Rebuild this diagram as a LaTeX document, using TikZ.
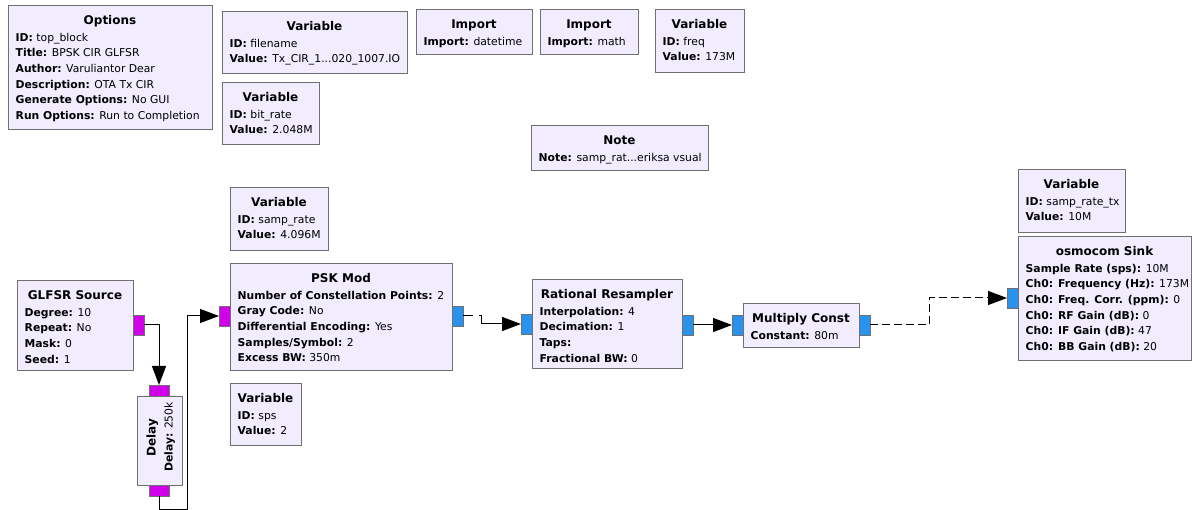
\documentclass[tikz,border=0pt]{standalone}
\usepackage{fontspec}
\setmainfont{DejaVu Sans}
\usetikzlibrary{arrows.meta,calc}
\definecolor{blkfill}{RGB}{241,237,255}
\definecolor{blkedge}{RGB}{112,112,112}
\definecolor{bytecol}{RGB}{208,0,232}
\definecolor{cpxcol}{RGB}{40,146,236}
\tikzset{
 x=1pt, y=-1pt,
 blockbox/.style={draw=blkedge, fill=blkfill, line width=0.9pt, inner sep=0pt, outer sep=0pt, anchor=north west},
 ttl/.style={font=\fontsize{12}{14}\selectfont\bfseries, inner sep=0pt, anchor=mid},
 prm/.style={font=\fontsize{10.8}{13}\selectfont, inner sep=0pt, anchor=mid west},
 portbox/.style={draw=blkedge, line width=0.9pt, inner sep=0pt, outer sep=0pt, anchor=north west},
 bport/.style={portbox, fill=bytecol},
 cport/.style={portbox, fill=cpxcol},
 conn/.style={line width=1pt, -{Triangle[length=19pt,width=14pt]}},
}
\newcommand\grdots{.{}.{}.}
\newcommand\grblk[7]{%
 \node[blockbox, minimum width={#4-#2}, minimum height={#5-#3}] (#1) at (#2,#3) {};
 \node[ttl] (#1-title) at ({(#2+#4)/2},{#3+16.5}) {#6};
 \foreach \grline [count=\i] in {#7} {\node[prm] (#1-l\i) at ({#2+7.5},{#3+33.5+(\i-1)*15.6}) {\grline};}
}
\newcommand\grport[6]{\node[#2, minimum width={#5-#3}, minimum height={#6-#4}] (#1) at (#3,#4) {};}
\begin{document}
\begin{tikzpicture}
\useasboundingbox[fill=white] (0,0) rectangle (1192,510);

\grblk{opt}{8}{5}{212}{129}{Options}{{\textbf{ID:} top\_block},{\textbf{Title:} BPSK CIR GLFSR},{\textbf{Author:} Varuliantor Dear},{\textbf{Description:} OTA Tx CIR},{\textbf{Generate Options:} No GUI},{\textbf{Run Options:} Run to Completion}}
\grblk{vfile}{222}{11}{407}{73}{Variable}{{\textbf{ID:} filename},{\textbf{Value:} Tx\_CIR\_1\grdots020\_1007.IO}}
\grblk{vbit}{222}{82}{319}{144}{Variable}{{\textbf{ID:} bit\_rate},{\textbf{Value:} 2.048M}}
\grblk{imp1}{416}{9}{532}{54}{Import}{{\textbf{Import:} datetime}}
\grblk{imp2}{540}{9}{638}{54}{Import}{{\textbf{Import:} math}}
\grblk{vfreq}{655}{9}{744}{72}{Variable}{{\textbf{ID:} freq},{\textbf{Value:} 173M}}
\grblk{note}{531}{125}{708}{170}{Note}{{\textbf{Note:} samp\_rat\grdots eriksa vsual}}
\grblk{vsr}{230}{187}{328}{250}{Variable}{{\textbf{ID:} samp\_rate},{\textbf{Value:} 4.096M}}
\grblk{psk}{230}{263}{452}{370}{PSK Mod}{{\textbf{Number of Constellation Points:} 2},{\textbf{Gray Code:} No},{\textbf{Differential Encoding:} Yes},{\textbf{Samples/Symbol:} 2},{\textbf{Excess BW:} 350m}}
\grblk{glfsr}{17}{280}{133}{370}{GLFSR Source}{{\textbf{Degree:} 10},{\textbf{Repeat:} No},{\textbf{Mask:} 0},{\textbf{Seed:} 1}}
\grblk{vsps}{230}{383}{301}{445}{Variable}{{\textbf{ID:} sps},{\textbf{Value:} 2}}
\grblk{rr}{532}{279}{682}{368}{Rational Resampler}{{\textbf{Interpolation:} 4},{\textbf{Decimation:} 1},{\textbf{Taps:}},{\textbf{Fractional BW:} 0}}
\grblk{mc}{743}{303}{859}{347}{Multiply Const}{{\textbf{Constant:} 80m}}
\grblk{vsrtx}{1018}{169}{1125}{232}{Variable}{{\textbf{ID:} samp\_rate\_tx},{\textbf{Value:} 10M}}
\grblk{osmo}{1018}{236}{1191}{360}{osmocom Sink}{{\textbf{Sample Rate (sps):} 10M},{\textbf{Ch0: Frequency (Hz):} 173M},{\textbf{Ch0: Freq. Corr. (ppm):} 0},{\textbf{Ch0: RF Gain (dB):} 0},{\textbf{Ch0: IF Gain (dB):} 47},{\textbf{Ch0: BB Gain (dB):} 20}}

% Delay block (rotated)
\node[blockbox, minimum width=45, minimum height=89] (delay) at (137,396) {};
\node[ttl, rotate=90] (delay-title) at (153,438) {Delay};
\node[prm, rotate=90] (delay-l1) at (170,472) {\textbf{Delay:} 250k};

% ports
\grport{gout}{bport}{133}{315}{144}{335}
\grport{din}{bport}{149}{385}{169}{396}
\grport{dout}{bport}{149}{485}{169}{496}
\grport{pin}{bport}{219}{306}{230}{326}
\grport{pout}{cport}{452}{306}{463}{326}
\grport{rin}{cport}{521}{314}{532}{334}
\grport{rout}{cport}{682}{315}{693}{335}
\grport{min}{cport}{732}{315}{743}{335}
\grport{mout}{cport}{859}{315}{870}{335}
\grport{oin}{cport}{1007}{288}{1018}{308}

% connectors
\draw[conn] (gout.east) -| (din.north);
\draw[conn] (dout.south) -- ++(0,13) -| ($(pin.west)+(-32,0)$) -- (pin.west);
\draw[conn, dash pattern={on 10pt off 6pt on 400pt off 0pt}] (pout.east) -- ++(18,0) |- (rin.west);
\draw[conn] (rout.east) -- (min.west);
\draw[conn, dash pattern={on 8pt off 4pt}] (mout.east) -- ++(59,0) |- (oin.west);
\end{tikzpicture}
\end{document}
